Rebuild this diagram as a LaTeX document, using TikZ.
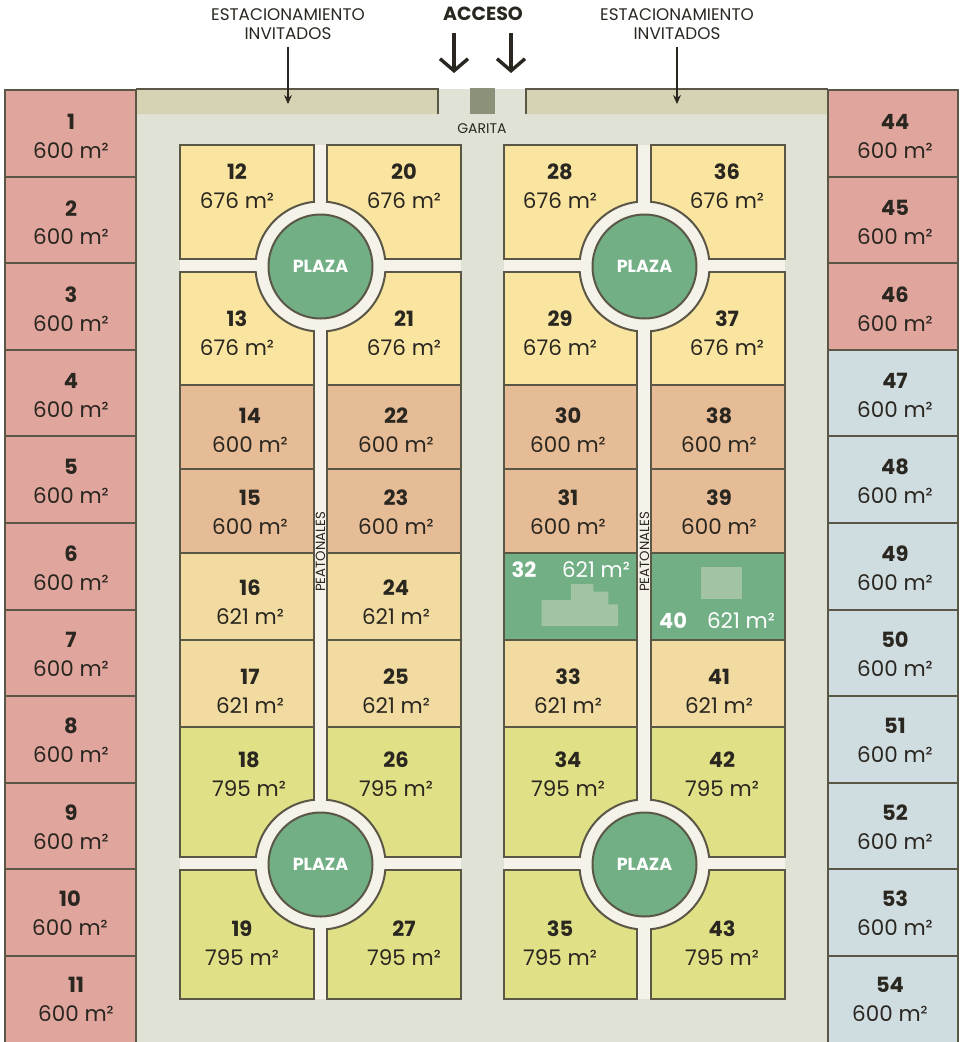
\documentclass[tikz,border=0pt]{standalone}
\usepackage{fontspec}
\setmainfont{Poppins}
\usetikzlibrary{arrows.meta}
\definecolor{linecol}{HTML}{5A5747}
\definecolor{sitecol}{HTML}{E0E2D5}
\definecolor{walkcol}{HTML}{F5F2E9}
\definecolor{parkcol}{HTML}{D5D3B3}
\definecolor{garitacol}{HTML}{8C917A}
\definecolor{lotpink}{HTML}{E0A59C}
\definecolor{lotblue}{HTML}{CFDCE0}
\definecolor{lotyel}{HTML}{F9E5A0}
\definecolor{lotora}{HTML}{E6BC96}
\definecolor{lottan}{HTML}{F1DBA0}
\definecolor{lotlime}{HTML}{E0E086}
\definecolor{lotgreen}{HTML}{72AF85}
\definecolor{housecol}{HTML}{A3C3A5}
\definecolor{inkcol}{HTML}{2A2620}
\tikzset{
	lotline/.style={draw=linecol, line width=2pt},
	numtxt/.style={inner sep=0pt, text=inkcol, font=\fontsize{21}{21}\selectfont\bfseries},
	areatxt/.style={inner sep=0pt, text=inkcol, font=\fontsize{21.5}{22}\selectfont},
	smalltxt/.style={inner sep=0pt, text=inkcol, align=center, font=\fontsize{16.8}{19}\selectfont},
	plazanode/.style={circle, draw=linecol, line width=2pt, fill=lotgreen, inner sep=0pt, minimum size=104pt, text=white, font=\fontsize{17.5}{17.5}\selectfont\bfseries},
	roundnode/.style={circle, draw=linecol, line width=2pt, fill=walkcol, inner sep=0pt, minimum size=130pt}
}
\begin{document}
\begin{tikzpicture}[x=1pt, y=-1pt]
	\useasboundingbox (0,0) rectangle (960,1042);
	% site and parking
	\fill[sitecol] (136,89) rectangle (828,1042);
	\fill[parkcol] (136,89) rectangle (438,114) (526,89) rectangle (828,114);
	\fill[garitacol] (470,88) rectangle (495,114);
	\draw[lotline] (136,89) -- (438,89) -- (438,114);
	\draw[lotline] (828,89) -- (526,89) -- (526,114);
	% outer columns
	\foreach \i/\c/\x in {1/lotpink/71, 2/lotpink/71, 3/lotpink/71, 4/lotpink/71, 5/lotpink/71, 6/lotpink/71, 7/lotpink/71, 8/lotpink/71, 9/lotpink/71, 10/lotpink/70, 11/lotpink/76}{
		\draw[lotline, fill=\c] (5,{90+86.6*(\i-1)}) rectangle (136,{90+86.6*\i});
		\node[numtxt] (n\i) at (\x,{122+86.3*(\i-1)}) {\i};
		\node[areatxt] (a\i) at (\x,{150.5+86.35*(\i-1)}) {600 m²};
	}
	\foreach \i/\r/\c/\x in {44/1/lotpink/895, 45/2/lotpink/895, 46/3/lotpink/895, 47/4/lotblue/895, 48/5/lotblue/895, 49/6/lotblue/895, 50/7/lotblue/895, 51/8/lotblue/895, 52/9/lotblue/895, 53/10/lotblue/895, 54/11/lotblue/890}{
		\draw[lotline, fill=\c] (828,{90+86.6*(\r-1)}) rectangle (958,{90+86.6*\r});
		\node[numtxt] (n\i) at (\x,{122+86.3*(\r-1)}) {\i};
		\node[areatxt] (a\i) at (\x,{150.5+86.35*(\r-1)}) {600 m²};
	}
	% inner blocks
	\foreach \c/\xa/\xb/\ya/\yb in {lotyel/180/314/145/259, lotyel/327/461/145/259, lotyel/504/637/145/259, lotyel/651/785/145/259,
		lotyel/180/314/272/385, lotyel/327/461/272/385, lotyel/504/637/272/385, lotyel/651/785/272/385,
		lotora/180/314/385/469, lotora/327/461/385/469, lotora/504/637/385/469, lotora/651/785/385/469,
		lotora/180/314/469/553, lotora/327/461/469/553, lotora/504/637/469/553, lotora/651/785/469/553,
		lottan/180/314/553/640, lottan/327/461/553/640, lotgreen/504/637/553/640, lotgreen/651/785/553/640,
		lottan/180/314/640/727, lottan/327/461/640/727, lottan/504/637/640/727, lottan/651/785/640/727,
		lotlime/180/314/727/857, lotlime/327/461/727/857, lotlime/504/637/727/857, lotlime/651/785/727/857,
		lotlime/180/314/870/999, lotlime/327/461/870/999, lotlime/504/637/870/999, lotlime/651/785/870/999}{
		\draw[lotline, fill=\c] (\xa,\ya) rectangle (\xb,\yb);
	}
	\fill[housecol] (541.7,626) -- (541.7,600) -- (571,600) -- (571,584) -- (593.3,584) -- (593.3,591.7) -- (608.3,591.7) -- (608.3,604.3) -- (618,604.3) -- (618,626) -- cycle;
	\fill[housecol] (700.7,566.7) rectangle (742,599.3);
	% walks and plazas
	\foreach \cx/\xa/\xb/\wa/\wb/\pname in {320.5/180/461/315/326/l, 644.5/504/785/638/650/r}{
		\node[roundnode] (rt\pname) at (\cx,266.5) {};
		\node[roundnode] (rb\pname) at (\cx,864.5) {};
		\fill[walkcol] (\wa,145) rectangle (\wb,999);
		\fill[walkcol] (\xa,260) rectangle (\xb,271);
		\fill[walkcol] (\xa,858) rectangle (\xb,869);
		\node[plazanode] (pt\pname) at (\cx,266.5) {PLAZA};
		\node[plazanode] (pb\pname) at (\cx,864.5) {PLAZA};
	}
	% lot labels
	\foreach \i/\ar/\x/\y in {12/676/237/172, 20/676/404/172, 28/676/560/172, 36/676/727/172,
		13/676/237/319, 21/676/404/319, 29/676/560/319, 37/676/727/319,
		14/600/250/416, 22/600/396/416, 30/600/568/416, 38/600/719/416,
		15/600/250/498, 23/600/396/498, 31/600/568/498, 39/600/719/498,
		16/621/250/588, 24/621/396/588,
		17/621/250/677, 25/621/396/677, 33/621/568/677, 41/621/719/677,
		18/795/249/760, 26/795/396/760, 34/795/568/760, 42/795/722/760,
		19/795/242/929, 27/795/404/929, 35/795/560/929, 43/795/722/929}{
		\node[numtxt] (n\i) at (\x,\y) {\i};
		\node[areatxt] (a\i) at (\x,{\y+28.5}) {\ar{} m²};
	}
	\node[numtxt, text=white] (n32) at (524,570) {32};
	\node[areatxt, text=white] (a32) at (596,570) {621 m²};
	\node[numtxt, text=white] (n40) at (673,621) {40};
	\node[areatxt, text=white] (a40) at (741,621) {621 m²};
	% top labels
	\node[smalltxt] (parkl) at (288,24) {ESTACIONAMIENTO\\INVITADOS};
	\node[smalltxt] (parkr) at (677,24) {ESTACIONAMIENTO\\INVITADOS};
	\node[numtxt, font=\fontsize{19}{19}\selectfont\bfseries] (acceso) at (483,14) {ACCESO};
	\node[smalltxt, font=\fontsize{14}{14}\selectfont] (garita) at (482,129) {GARITA};
	\node[smalltxt, rotate=90, font=\fontsize{13.3}{13.3}\selectfont] (peatl) at (320.5,552) {PEATONALES};
	\node[smalltxt, rotate=90, font=\fontsize{13.3}{13.3}\selectfont] (peatr) at (644.5,552) {PEATONALES};
	% arrows
	\coordinate (pl) at (288,104);
	\coordinate (pr) at (677,104);
	\coordinate (a1a) at (454,33);
	\coordinate (a1b) at (454,73);
	\coordinate (a2a) at (511,33);
	\coordinate (a2b) at (511,73);
	\draw[-{Stealth[length=9pt, width=8pt]}, line width=1.2pt, inkcol] (parkl.south) ++(0,7) -- (pl);
	\draw[-{Stealth[length=9pt, width=8pt]}, line width=1.2pt, inkcol] (parkr.south) ++(0,7) -- (pr);
	\draw[-{Straight Barb[length=12pt, width=28pt, line width=3.4pt]}, line width=3.4pt, inkcol] (a1a) -- (a1b);
	\draw[-{Straight Barb[length=12pt, width=28pt, line width=3.4pt]}, line width=3.4pt, inkcol] (a2a) -- (a2b);
\end{tikzpicture}
\end{document}
